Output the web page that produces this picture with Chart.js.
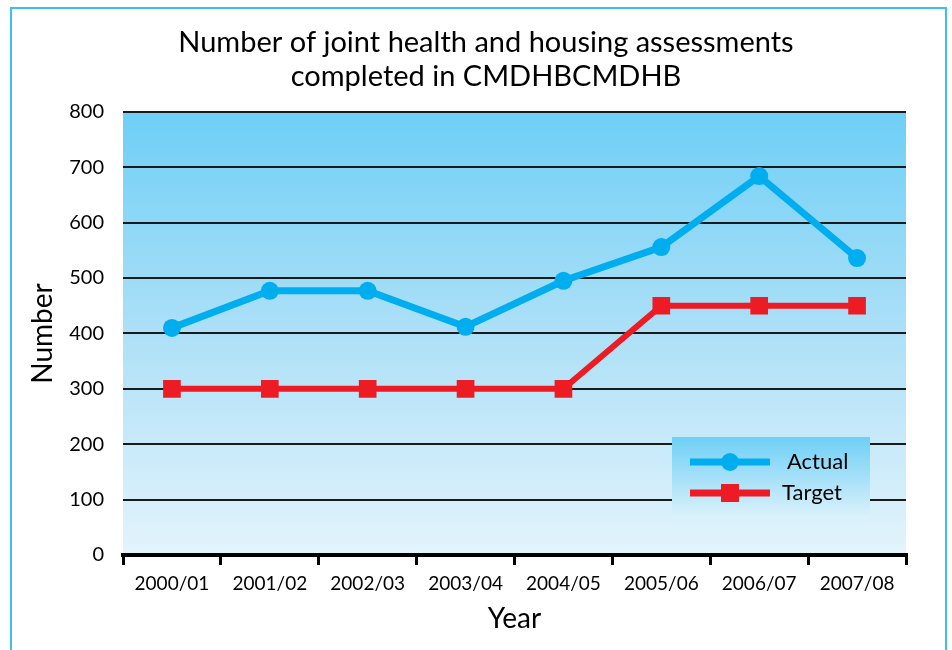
<!DOCTYPE html>
<html><head><meta charset="utf-8">
<script src="https://cdn.jsdelivr.net/npm/chart.js@4"></script>
<style>html,body{margin:0;padding:0;background:#fff}#wrap{width:952px;height:650px;position:relative}</style>
</head><body><div id="wrap"><canvas id="c" width="952" height="650"></canvas></div>
<script>
const categories = ['2000/01','2001/02','2002/03','2003/04','2004/05','2005/06','2006/07','2007/08'];
const actualValues = [410, 477, 477, 412, 495, 556, 684, 536];
const targetValues = [300, 300, 300, 300, 300, 450, 450, 450];
const seriesNames = ['Actual', 'Target'];
const titleLines = ['Number of joint health and housing assessments', 'completed in CMDHBCMDHB'];
const yMin = 0, yMax = 800, yStep = 100;
const FONT = 'Lato';

const bgPlugin = {
  id: 'bg',
  beforeDraw(chart) {
    const {ctx, chartArea: a} = chart;
    ctx.save();
    ctx.fillStyle = '#fff';
    ctx.fillRect(0, 0, chart.width, chart.height);
    const g = ctx.createLinearGradient(0, a.top, 0, a.bottom);
    g.addColorStop(0, '#6ecff6');
    g.addColorStop(0.5, '#ade0f7');
    g.addColorStop(1, '#e3f4fc');
    ctx.fillStyle = g;
    ctx.fillRect(a.left, a.top, a.right - a.left, a.bottom - a.top);
    ctx.restore();
  },
  afterDraw(chart) {
    const {ctx, chartArea: a} = chart;
    ctx.save();
    const lx = a.right - 234, ly = a.bottom - 118, lw = 198, lh = 80;
    const g = ctx.createLinearGradient(0, ly, 0, ly + lh);
    g.addColorStop(0, '#6ecff6');
    g.addColorStop(1, '#dbf1fb');
    ctx.fillStyle = g;
    ctx.fillRect(lx, ly, lw, lh);
    chart.data.datasets.forEach((ds, i) => {
      const y = ly + 25 + i * 31;
      ctx.strokeStyle = ds.borderColor;
      ctx.lineWidth = 7;
      ctx.beginPath();
      ctx.moveTo(lx + 18, y);
      ctx.lineTo(lx + 98, y);
      ctx.stroke();
      ctx.fillStyle = ds.borderColor;
      if (ds.pointStyle === 'rect') {
        ctx.fillRect(lx + 58 - 9, y - 9, 18, 18);
      } else {
        ctx.beginPath();
        ctx.arc(lx + 58, y, 9, 0, Math.PI * 2);
        ctx.fill();
      }
      ctx.fillStyle = '#000';
      ctx.font = '22px ' + FONT;
      ctx.textBaseline = 'middle';
      ctx.textAlign = 'left';
      ctx.fillText(ds.label, lx + (i === 0 ? 115 : 110), y);
    });
    ctx.strokeStyle = '#3ec0ee';
    ctx.lineWidth = 2;
    ctx.beginPath();
    ctx.moveTo(11, 660);
    ctx.lineTo(11, 8);
    ctx.lineTo(946, 8);
    ctx.lineTo(946, 660);
    ctx.stroke();
    ctx.restore();
  }
};

new Chart(document.getElementById('c'), {
  type: 'line',
  data: {
    labels: categories,
    datasets: [
      { label: seriesNames[0], data: actualValues, borderColor: '#00aeef', backgroundColor: '#00aeef',
        borderWidth: 7, pointStyle: 'circle', pointRadius: 9, pointBorderWidth: 0, tension: 0 },
      { label: seriesNames[1], data: targetValues, borderColor: '#ed1c24', backgroundColor: '#ed1c24',
        borderWidth: 6, pointStyle: 'rect', pointRadius: 12.5, pointBorderWidth: 0, tension: 0 }
    ]
  },
  options: {
    responsive: false,
    animation: false,
    devicePixelRatio: 1,
    layout: { padding: { left: 66, right: 46, top: 0, bottom: 0 } },
    plugins: {
      legend: { display: false },
      tooltip: { enabled: false },
      title: {
        display: true, text: titleLines, color: '#000',
        font: { family: FONT, size: 29, weight: 'normal', lineHeight: 1.17 },
        padding: { top: 26, bottom: 18 }
      }
    },
    scales: {
      x: {
        type: 'category', offset: true,
        grid: { offset: true, drawOnChartArea: false, drawTicks: true, tickLength: 10, color: '#000', lineWidth: 3 },
        border: { display: true, color: '#000', width: 4 },
        ticks: { color: '#000', font: { family: FONT, size: 19 }, padding: 7, maxRotation: 0, autoSkip: false },
        title: { display: true, text: 'Year', color: '#000', font: { family: FONT, size: 28 }, padding: { top: 0, bottom: 14 } },
        afterFit(s) { s.height = 95; }
      },
      y: {
        min: yMin, max: yMax,
        ticks: { stepSize: yStep, color: '#000', font: { family: FONT, size: 20 }, padding: 19 },
        grid: { color: '#1a1a1a', lineWidth: 2, drawTicks: false },
        border: { display: false },
        title: { display: true, text: 'Number', color: '#000', font: { family: FONT, size: 28 }, padding: { top: -40, bottom: 0 } },
        afterFit(s) { s.width = 57; }
      }
    }
  },
  plugins: [bgPlugin]
});
</script></body></html>
